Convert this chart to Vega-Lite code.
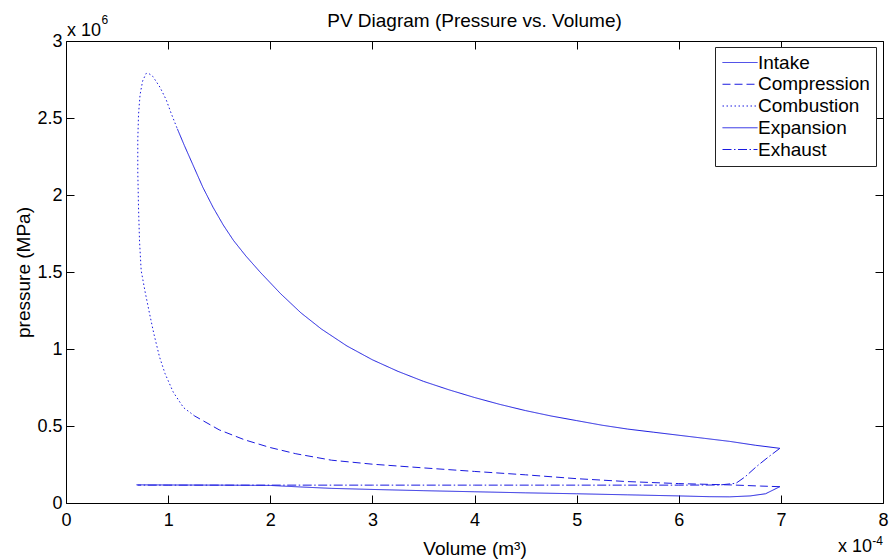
{
  "$schema": "https://vega.github.io/schema/vega-lite/v6.json",
  "width": 817,
  "height": 462,
  "autosize": {"type": "none"},
  "padding": {"left": 66, "top": 41, "right": 12, "bottom": 57},
  "background": "white",
  "title": {"text": "PV Diagram (Pressure vs. Volume)", "fontSize": 19, "font": "Liberation Sans", "fontWeight": "normal", "color": "black", "anchor": "middle", "frame": "group", "offset": -32, "baseline": "alphabetic"},
  "config": {
    "view": {"stroke": null},
    "axis": {"labelFont": "Liberation Sans", "labelFontSize": 18, "labelColor": "black", "titleFont": "Liberation Sans", "titleFontSize": 19, "titleFontWeight": "normal", "titleColor": "black", "domainColor": "black", "tickColor": "black", "grid": false, "labelFlush": false, "labelOverlap": false, "tickSize": -8, "domainWidth": 1, "tickWidth": 1},
    "text": {"font": "Liberation Sans", "color": "black"}
  },
  "datasets": {
    "cycle": [
      {"series": "Intake", "i": 0, "V": 0.69, "P": 0.118},
      {"series": "Intake", "i": 1, "V": 1.0, "P": 0.117},
      {"series": "Intake", "i": 2, "V": 1.5, "P": 0.116},
      {"series": "Intake", "i": 3, "V": 2.0, "P": 0.114},
      {"series": "Intake", "i": 4, "V": 2.3, "P": 0.104},
      {"series": "Intake", "i": 5, "V": 2.6, "P": 0.095},
      {"series": "Intake", "i": 6, "V": 3.0, "P": 0.088},
      {"series": "Intake", "i": 7, "V": 3.5, "P": 0.080},
      {"series": "Intake", "i": 8, "V": 4.0, "P": 0.073},
      {"series": "Intake", "i": 9, "V": 4.5, "P": 0.066},
      {"series": "Intake", "i": 10, "V": 5.0, "P": 0.060},
      {"series": "Intake", "i": 11, "V": 5.5, "P": 0.053},
      {"series": "Intake", "i": 12, "V": 6.0, "P": 0.046},
      {"series": "Intake", "i": 13, "V": 6.3, "P": 0.041},
      {"series": "Intake", "i": 14, "V": 6.5, "P": 0.040},
      {"series": "Intake", "i": 15, "V": 6.7, "P": 0.046},
      {"series": "Intake", "i": 16, "V": 6.85, "P": 0.060},
      {"series": "Intake", "i": 17, "V": 6.99, "P": 0.106},
      {"series": "Compression", "i": 0, "V": 6.99, "P": 0.106},
      {"series": "Compression", "i": 1, "V": 6.8, "P": 0.110},
      {"series": "Compression", "i": 2, "V": 6.53, "P": 0.117},
      {"series": "Compression", "i": 3, "V": 6.0, "P": 0.126},
      {"series": "Compression", "i": 4, "V": 5.5, "P": 0.139},
      {"series": "Compression", "i": 5, "V": 5.0, "P": 0.158},
      {"series": "Compression", "i": 6, "V": 4.5, "P": 0.183},
      {"series": "Compression", "i": 7, "V": 4.0, "P": 0.205},
      {"series": "Compression", "i": 8, "V": 3.5, "P": 0.228},
      {"series": "Compression", "i": 9, "V": 3.0, "P": 0.252},
      {"series": "Compression", "i": 10, "V": 2.6, "P": 0.278},
      {"series": "Compression", "i": 11, "V": 2.25, "P": 0.320},
      {"series": "Compression", "i": 12, "V": 2.0, "P": 0.360},
      {"series": "Compression", "i": 13, "V": 1.75, "P": 0.410},
      {"series": "Compression", "i": 14, "V": 1.5, "P": 0.475},
      {"series": "Compression", "i": 15, "V": 1.26, "P": 0.565},
      {"series": "Combustion", "i": 0, "V": 1.26, "P": 0.565},
      {"series": "Combustion", "i": 1, "V": 1.15, "P": 0.62},
      {"series": "Combustion", "i": 2, "V": 1.05, "P": 0.72},
      {"series": "Combustion", "i": 3, "V": 0.97, "P": 0.84},
      {"series": "Combustion", "i": 4, "V": 0.915, "P": 0.95},
      {"series": "Combustion", "i": 5, "V": 0.86, "P": 1.10},
      {"series": "Combustion", "i": 6, "V": 0.818, "P": 1.23},
      {"series": "Combustion", "i": 7, "V": 0.775, "P": 1.37},
      {"series": "Combustion", "i": 8, "V": 0.736, "P": 1.51},
      {"series": "Combustion", "i": 9, "V": 0.72, "P": 1.70},
      {"series": "Combustion", "i": 10, "V": 0.71, "P": 1.92},
      {"series": "Combustion", "i": 11, "V": 0.703, "P": 2.15},
      {"series": "Combustion", "i": 12, "V": 0.703, "P": 2.36},
      {"series": "Combustion", "i": 13, "V": 0.71, "P": 2.52},
      {"series": "Combustion", "i": 14, "V": 0.725, "P": 2.65},
      {"series": "Combustion", "i": 15, "V": 0.75, "P": 2.74},
      {"series": "Combustion", "i": 16, "V": 0.785, "P": 2.79},
      {"series": "Combustion", "i": 17, "V": 0.82, "P": 2.785},
      {"series": "Combustion", "i": 18, "V": 0.85, "P": 2.77},
      {"series": "Combustion", "i": 19, "V": 0.92, "P": 2.70},
      {"series": "Combustion", "i": 20, "V": 0.98, "P": 2.62},
      {"series": "Combustion", "i": 21, "V": 1.03, "P": 2.53},
      {"series": "Combustion", "i": 22, "V": 1.09, "P": 2.43},
      {"series": "Expansion", "i": 0, "V": 1.09, "P": 2.43},
      {"series": "Expansion", "i": 1, "V": 1.16, "P": 2.32},
      {"series": "Expansion", "i": 2, "V": 1.24, "P": 2.20},
      {"series": "Expansion", "i": 3, "V": 1.34, "P": 2.05},
      {"series": "Expansion", "i": 4, "V": 1.44, "P": 1.92},
      {"series": "Expansion", "i": 5, "V": 1.54, "P": 1.805},
      {"series": "Expansion", "i": 6, "V": 1.64, "P": 1.705},
      {"series": "Expansion", "i": 7, "V": 1.76, "P": 1.605},
      {"series": "Expansion", "i": 8, "V": 1.9, "P": 1.50},
      {"series": "Expansion", "i": 9, "V": 2.1, "P": 1.36},
      {"series": "Expansion", "i": 10, "V": 2.3, "P": 1.235},
      {"series": "Expansion", "i": 11, "V": 2.5, "P": 1.13},
      {"series": "Expansion", "i": 12, "V": 2.75, "P": 1.02},
      {"series": "Expansion", "i": 13, "V": 3.0, "P": 0.93},
      {"series": "Expansion", "i": 14, "V": 3.25, "P": 0.855},
      {"series": "Expansion", "i": 15, "V": 3.5, "P": 0.79},
      {"series": "Expansion", "i": 16, "V": 3.75, "P": 0.735},
      {"series": "Expansion", "i": 17, "V": 4.0, "P": 0.685},
      {"series": "Expansion", "i": 18, "V": 4.25, "P": 0.64},
      {"series": "Expansion", "i": 19, "V": 4.5, "P": 0.60},
      {"series": "Expansion", "i": 20, "V": 4.75, "P": 0.565},
      {"series": "Expansion", "i": 21, "V": 5.0, "P": 0.535},
      {"series": "Expansion", "i": 22, "V": 5.25, "P": 0.505},
      {"series": "Expansion", "i": 23, "V": 5.5, "P": 0.48},
      {"series": "Expansion", "i": 24, "V": 5.75, "P": 0.46},
      {"series": "Expansion", "i": 25, "V": 6.0, "P": 0.44},
      {"series": "Expansion", "i": 26, "V": 6.25, "P": 0.42},
      {"series": "Expansion", "i": 27, "V": 6.5, "P": 0.40},
      {"series": "Expansion", "i": 28, "V": 6.75, "P": 0.375},
      {"series": "Expansion", "i": 29, "V": 6.99, "P": 0.355},
      {"series": "Exhaust", "i": 0, "V": 6.99, "P": 0.355},
      {"series": "Exhaust", "i": 1, "V": 6.88, "P": 0.30},
      {"series": "Exhaust", "i": 2, "V": 6.76, "P": 0.236},
      {"series": "Exhaust", "i": 3, "V": 6.65, "P": 0.17},
      {"series": "Exhaust", "i": 4, "V": 6.56, "P": 0.128},
      {"series": "Exhaust", "i": 5, "V": 6.4, "P": 0.117},
      {"series": "Exhaust", "i": 6, "V": 6.0, "P": 0.116},
      {"series": "Exhaust", "i": 7, "V": 5.0, "P": 0.116},
      {"series": "Exhaust", "i": 8, "V": 4.0, "P": 0.116},
      {"series": "Exhaust", "i": 9, "V": 3.0, "P": 0.116},
      {"series": "Exhaust", "i": 10, "V": 2.0, "P": 0.116},
      {"series": "Exhaust", "i": 11, "V": 1.0, "P": 0.116},
      {"series": "Exhaust", "i": 12, "V": 0.7, "P": 0.116}
    ],
    "notes": [
      {"k": "ytop", "t": "x 10", "V": 0, "P": 3},
      {"k": "ysup", "t": "6", "V": 0, "P": 3},
      {"k": "xbot", "t": "x 10", "V": 8, "P": 0},
      {"k": "xsup", "t": "-4", "V": 8, "P": 0}
    ]
  },
  "layer": [
    {
      "data": {"name": "cycle"},
      "mark": {"type": "line", "strokeWidth": 1},
      "encoding": {
        "x": {"field": "V", "type": "quantitative", "scale": {"domain": [0, 8], "nice": false, "zero": false},
              "axis": {"orient": "bottom", "values": [0, 1, 2, 3, 4, 5, 6, 7, 8], "format": "~g", "labelPadding": 16.5, "title": "Volume (m³)", "titleX": 408.5, "titleY": 51, "titleBaseline": "alphabetic", "titleAlign": "center"}},
        "y": {"field": "P", "type": "quantitative", "scale": {"domain": [0, 3], "nice": false, "zero": false},
              "axis": {"orient": "left", "values": [0, 0.5, 1, 1.5, 2, 2.5, 3], "format": "~g", "labelPadding": 12, "title": "pressure (MPa)", "titleX": -43, "titleY": 231, "titleAngle": -90, "titleBaseline": "middle", "titleAlign": "center"}},
        "color": {"field": "series", "type": "nominal",
                  "scale": {"domain": ["Intake", "Compression", "Combustion", "Expansion", "Exhaust"], "range": ["#1a1ae0", "#1a1ae0", "#1a1ae0", "#1a1ae0", "#1a1ae0"]},
                  "legend": {"orient": "none", "legendX": 649, "legendY": 6, "title": null, "symbolType": "stroke", "symbolSize": 1225, "symbolStrokeWidth": 1, "clipHeight": 19, "rowPadding": 1.75, "padding": 6, "symbolOffset": 1, "labelOffset": 0, "labelFontSize": 19, "labelFont": "Liberation Sans", "labelColor": "black", "strokeColor": "#222222", "fillColor": "white", "cornerRadius": 0, "labelLimit": 300}},
        "strokeDash": {"field": "series", "type": "nominal",
                  "scale": {"domain": ["Intake", "Compression", "Combustion", "Expansion", "Exhaust"], "range": [[1, 0], [8, 4], [1.5, 2.5], [1, 0], [9, 2.5, 1.5, 2.5]]},
                  "legend": {"orient": "none", "legendX": 649, "legendY": 6, "title": null, "symbolType": "stroke", "symbolSize": 1225, "symbolStrokeWidth": 1, "clipHeight": 19, "rowPadding": 1.75, "padding": 6, "symbolOffset": 1, "labelOffset": 0, "labelFontSize": 19, "labelFont": "Liberation Sans", "labelColor": "black", "strokeColor": "#222222", "fillColor": "white", "cornerRadius": 0, "labelLimit": 300}},
        "order": {"field": "i", "type": "quantitative"}
      }
    },
    {
      "data": {"name": "notes"},
      "transform": [{"filter": "datum.k === 'ytop'"}],
      "mark": {"type": "text", "align": "left", "baseline": "alphabetic", "dx": 1, "dy": -5, "fontSize": 18},
      "encoding": {
        "x": {"field": "V", "type": "quantitative", "axis": {"orient": "top", "values": [0, 1, 2, 3, 4, 5, 6, 7, 8], "labels": false, "title": null}},
        "y": {"field": "P", "type": "quantitative", "axis": {"orient": "right", "values": [0, 0.5, 1, 1.5, 2, 2.5, 3], "labels": false, "title": null}},
        "text": {"field": "t"}
      }
    },
    {
      "data": {"name": "notes"},
      "transform": [{"filter": "datum.k === 'ysup'"}],
      "mark": {"type": "text", "align": "left", "baseline": "alphabetic", "dx": 35.5, "dy": -17, "fontSize": 12},
      "encoding": {
        "x": {"field": "V", "type": "quantitative", "axis": null},
        "y": {"field": "P", "type": "quantitative", "axis": null},
        "text": {"field": "t"}
      }
    },
    {
      "data": {"name": "notes"},
      "transform": [{"filter": "datum.k === 'xbot'"}],
      "mark": {"type": "text", "align": "right", "baseline": "alphabetic", "dx": -11, "dy": 49, "fontSize": 18},
      "encoding": {
        "x": {"field": "V", "type": "quantitative", "axis": null},
        "y": {"field": "P", "type": "quantitative", "axis": null},
        "text": {"field": "t"}
      }
    },
    {
      "data": {"name": "notes"},
      "transform": [{"filter": "datum.k === 'xsup'"}],
      "mark": {"type": "text", "align": "right", "baseline": "alphabetic", "dx": 0, "dy": 42, "fontSize": 12},
      "encoding": {
        "x": {"field": "V", "type": "quantitative", "axis": null},
        "y": {"field": "P", "type": "quantitative", "axis": null},
        "text": {"field": "t"}
      }
    }
  ],
  "resolve": {"axis": {"x": "independent", "y": "independent"}}
}
